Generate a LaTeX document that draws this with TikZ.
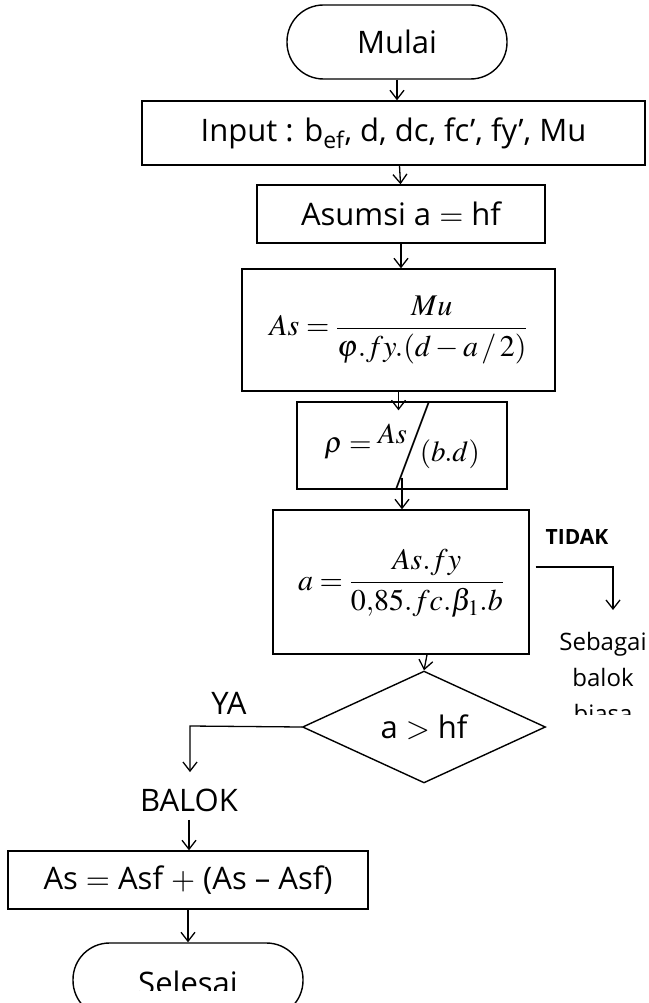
\documentclass[tikz,border=0pt]{standalone}
\usepackage{amsmath}
\usepackage{mathptmx}
\usepackage[no-math]{fontspec}
\setmainfont{Open Sans}
\usetikzlibrary{shapes.geometric,arrows.meta}

\tikzset{
  kotak/.style={draw,line width=1.4pt,rectangle,inner sep=0pt},
  terminal/.style={draw,line width=1.4pt,rectangle,rounded corners=36.5pt,inner sep=0pt,minimum height=74pt},
  keputusan/.style={draw,line width=1.4pt,diamond,inner sep=0pt,minimum width=243pt,minimum height=96pt},
  panah/.style={->,line width=1.3pt},
  rumus/.style={font=\fontsize{30}{36}\selectfont},
  kecil/.style={font=\fontsize{24}{36}\selectfont},
}

\begin{document}
\begin{tikzpicture}[x=1pt,y=-1pt,>={Straight Barb[length=9pt,width=14pt]},font=\fontsize{31}{38}\selectfont]
          \useasboundingbox (0,0) rectangle (648,1003);
          \node[terminal,minimum width=220pt] (mulai) at (397,42) {Mulai};
          \node[kotak,minimum width=503pt,minimum height=64pt] (input) at (393.5,133) {Input : b\textsubscript{ef}, d, dc, fc’, fy’, Mu};
          \node[kotak,minimum width=288pt,minimum height=58pt] (asumsi) at (401,214) {Asumsi a $=$ hf};
          \node[kotak,rumus,minimum width=313pt,minimum height=122pt] (as) at (398.5,330) {$As=\dfrac{Mu}{\varphi.fy.(d-a\,/\,2)}$};
          \node[kotak,rumus,font=\fontsize{29}{34}\selectfont,minimum width=210pt,minimum height=83pt] (rho) at (402,445.5)
            {$\rho=\raisebox{9pt}{$As$}\mkern-8mu\Bigg/\mkern-7mu\raisebox{-9pt}{$(b.d)$}$};
          \node[kotak,rumus,minimum width=256pt,minimum height=144pt,text height=40pt,text depth=24pt] (abox) at (401,582)
            {$a=\dfrac{As.fy}{0{,}85.fc.\beta_1.b}$};
          \node[font=\fontsize{21}{24}\selectfont\bfseries] (tidak) at (577,537) {TIDAK};
          \begin{scope}
            \clip (450,600) rectangle (648,714);
            \node[kecil,align=center,anchor=north] (sebagai) at (603,628.5) {Sebagai\\balok\\biasa};
          \end{scope}
          \node[keputusan] (cek) at (424,727) {a $>$ hf};
          \node (ya) at (229,703) {YA};
          \node (balok) at (189,800) {BALOK};
          \node[kotak,minimum width=360pt,minimum height=58pt] (asf) at (188,880) {As $=$ Asf $+$ (As – Asf)};
          \node[terminal,minimum width=230pt] (selesai) at (188,980) {};
          \begin{scope}
            \clip (0,900) rectangle (648,990);
            \node[anchor=base] (selesaiteks) at (188,994) {Selesai};
          \end{scope}
          % panah utama
          \coordinate (t1) at (613,567);
          \coordinate (t2) at (613,610);
          \coordinate (y1) at (190,726);
          \draw[panah] (mulai) -- (mulai |- input.north);
          \draw[panah] ([xshift=6pt]input.south) -- ([xshift=-0.5pt]asumsi.north);
          \draw[panah] (asumsi) -- (asumsi |- as.north);
          \draw[panah] (as) -- ([yshift=-9pt]as |- rho.north);
          \draw[panah] ([yshift=12pt]rho.south) -- (rho |- abox.north);
          \draw[panah] ([xshift=26pt]abox.south) -- (cek.north);
          \draw[panah] ([xshift=6pt]abox.east |- t1) -- (t1) -- (t2);
          \draw[panah] (cek.west) -- (y1) -- ([yshift=13pt]y1 |- balok.north);
          \draw[panah] ([yshift=-5pt]balok.south) -- (balok |- asf.north);
          \draw[panah] (asf.south -| selesai) -- (selesai.north);
        \end{tikzpicture}
\end{document}
